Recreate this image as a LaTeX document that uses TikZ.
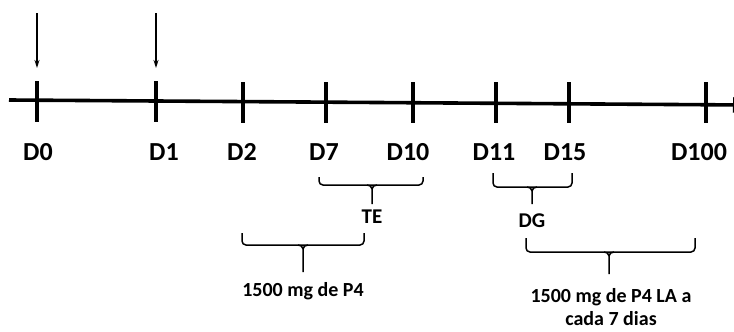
\documentclass[tikz,border=0pt]{standalone}
\usepackage{fontspec}
\setmainfont{Carlito}
\usetikzlibrary{arrows.meta}
\begin{document}
\begin{tikzpicture}[x=1pt,y=-1pt,
  axis/.style={line width=3.6pt,-{Triangle[length=12pt,width=15pt]}},
  tick/.style={line width=3.4pt},
  mark arrow/.style={line width=1.3pt,-{Stealth[length=8pt,width=5pt]}},
  bracket/.style={line width=1.5pt,rounded corners=4pt},
  day/.style={font=\fontsize{26}{30}\selectfont\bfseries,anchor=base,inner sep=0pt},
  tag/.style={font=\fontsize{21}{24}\selectfont\bfseries,anchor=base,inner sep=0pt},
  note/.style={font=\fontsize{20}{22}\selectfont\bfseries,inner sep=0pt,align=center}]
\useasboundingbox (0,0) rectangle (734,332);

% time axis
\coordinate (axL) at (9,100);
\coordinate (axR) at (745,105);
\draw[axis] (axL) -- (axR);

% day ticks
\foreach \n/\x/\y in {0/37/81,1/156/81,2/243/82,7/326/82,10/413/82,11/496/82,15/569/82,100/706/82}{
  \coordinate (top\n) at (\x,\y);
  \coordinate (bot\n) at (\x,\y+41);
  \draw[tick] (top\n) -- (bot\n);
}

% day labels
\node[day] (d0)   at (38,160)  {D0};
\node[day] (d1)   at (164,160) {D1};
\node[day] (d2)   at (242,160) {D2};
\node[day] (d7)   at (324,160) {D7};
\node[day] (d10)  at (408,160) {D10};
\node[day] (d11)  at (494,160) {D11};
\node[day] (d15)  at (565,160) {D15};
\node[day] (d100) at (699,160) {D100};

% markers above D0 and D1
\coordinate (m0s) at (37,13);  \coordinate (m0e) at (37,68);
\coordinate (m1s) at (156,13); \coordinate (m1e) at (156,68);
\draw[mark arrow] (m0s) -- (m0e);
\draw[mark arrow] (m1s) -- (m1e);

% bracket: name, left x, right x, top y, bar y, stem x, stem end y
\newcommand{\periodbracket}[7]{%
  \coordinate (#1L) at (#2,#4);
  \coordinate (#1R) at (#3,#4);
  \coordinate (#1S) at (#6,#7);
  \draw[bracket] (#1L) -- (#2,#5) -- (#3,#5) -- (#1R);
  \draw[line width=1.5pt] (#6-5,#5) to[out=0,in=90] (#6,#5+4) -- (#1S);
  \draw[line width=1.5pt] (#6+5,#5) to[out=180,in=90] (#6,#5+4);
}

\periodbracket{te}{319}{423}{177}{185}{372}{204}
\node[tag] (te) at (372,223) {TE};

\periodbracket{dg}{493}{572}{173}{187}{532}{204}
\node[tag] (dg) at (532,227) {DG};

\periodbracket{pa}{242}{364}{233}{245}{303}{272}
\node[tag,font=\fontsize{20}{24}\selectfont\bfseries] (pa) at (303,296) {1500 mg de P4};

\periodbracket{pb}{526}{695}{238}{252}{609}{274}
\node[tag,font=\fontsize{20}{22}\selectfont\bfseries] (pb1) at (611,302) {1500 mg de P4 LA a};
\node[tag,font=\fontsize{20}{22}\selectfont\bfseries] (pb2) at (611,325) {cada 7 dias};
\end{tikzpicture}
\end{document}
